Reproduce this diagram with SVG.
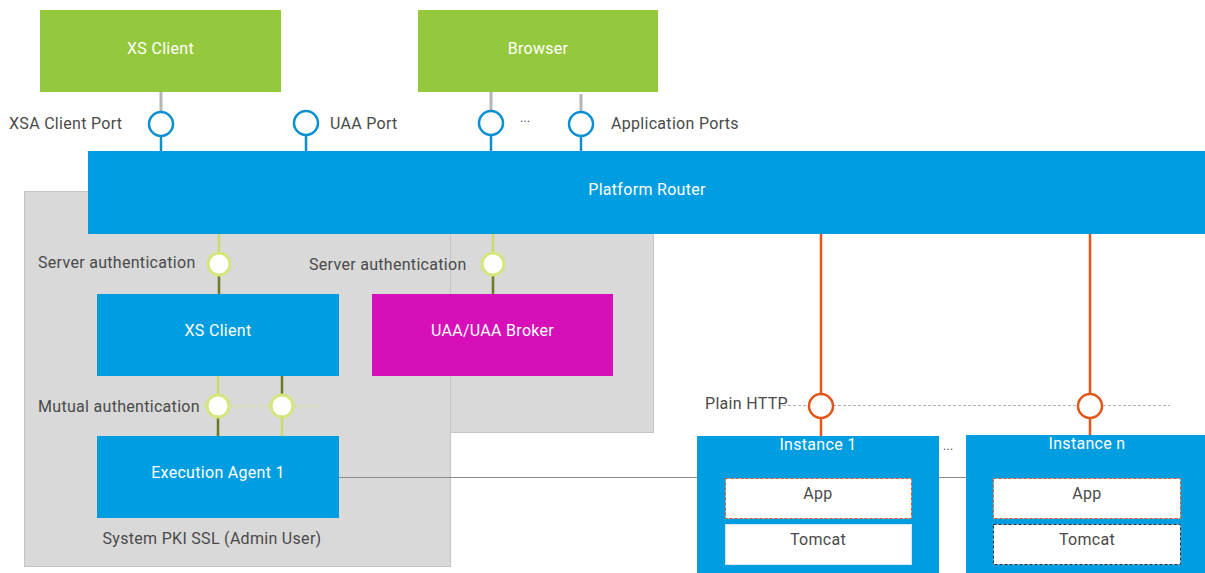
<svg xmlns="http://www.w3.org/2000/svg" width="1205" height="573" viewBox="0 0 1205 573">
<style>
text{font-family:Roboto,"Liberation Sans",sans-serif;font-size:16px;letter-spacing:0.3px}
.lbl{fill:#4a4a4a}
.wt{fill:#ffffff;text-anchor:middle}
.dk{fill:#4a4a4a;text-anchor:middle}
.green{fill:#95c93d}
.blue{fill:#009de0}
.port{fill:#ffffff;stroke:#0a8fd0;stroke-width:2.5}
.auth{fill:#ffffff;stroke:#d4e67a;stroke-width:3}
.http{fill:#ffffff;stroke:#e2561a;stroke-width:2.5}
</style>
<rect x="0" y="0" width="1205" height="573" fill="#ffffff"/>
<g id="zones">
<rect x="24.5" y="191.5" width="426" height="375" fill="#d9d9d9" stroke="#c4c4c4"/>
<rect x="450.5" y="191.5" width="203" height="241" fill="#d9d9d9" stroke="#c4c4c4"/>
<rect x="440" y="192" width="10" height="240" fill="#d9d9d9"/>
<text class="dk" x="212" y="544">System PKI SSL (Admin User)</text>
</g>
<g id="connectors">
<line x1="161" y1="92" x2="161" y2="112" stroke="#b5b5b5" stroke-width="3"/>
<line x1="491" y1="92" x2="491" y2="111" stroke="#b5b5b5" stroke-width="3"/>
<line x1="581" y1="94" x2="581" y2="112" stroke="#b5b5b5" stroke-width="3"/>
<line x1="161" y1="136" x2="161" y2="151" stroke="#0a8fd0" stroke-width="2.5"/>
<line x1="306" y1="135" x2="306" y2="151" stroke="#0a8fd0" stroke-width="2.5"/>
<line x1="491" y1="135" x2="491" y2="151" stroke="#0a8fd0" stroke-width="2.5"/>
<line x1="581" y1="136" x2="581" y2="151" stroke="#0a8fd0" stroke-width="2.5"/>
<line x1="219" y1="234" x2="219" y2="253" stroke="#c8dc6a" stroke-width="2.5"/>
<line x1="219" y1="275" x2="219" y2="294" stroke="#6b7a20" stroke-width="2.5"/>
<line x1="493" y1="234" x2="493" y2="253" stroke="#c8dc6a" stroke-width="2.5"/>
<line x1="493" y1="275" x2="493" y2="294" stroke="#6b7a20" stroke-width="2.5"/>
<line x1="196" y1="406" x2="320" y2="406" stroke="#d4e67a" stroke-width="1" stroke-dasharray="4,3"/>
<line x1="218" y1="376" x2="218" y2="395" stroke="#c8dc6a" stroke-width="2.5"/>
<line x1="218" y1="417" x2="218" y2="436" stroke="#6b7a20" stroke-width="2.5"/>
<line x1="282" y1="376" x2="282" y2="395" stroke="#6b7a20" stroke-width="2.5"/>
<line x1="282" y1="417" x2="282" y2="436" stroke="#c8dc6a" stroke-width="2.5"/>
<line x1="339" y1="477.5" x2="967" y2="477.5" stroke="#8c8c8c" stroke-width="1"/>
<line x1="783" y1="405.5" x2="1170" y2="405.5" stroke="#b0b0b0" stroke-width="1" stroke-dasharray="3,2"/>
<line x1="821" y1="234" x2="821" y2="394" stroke="#e2561a" stroke-width="2.5"/>
<line x1="821" y1="418" x2="821" y2="436" stroke="#e2561a" stroke-width="2.5"/>
<line x1="1090" y1="234" x2="1090" y2="394" stroke="#e2561a" stroke-width="2.5"/>
<line x1="1090" y1="418" x2="1090" y2="435" stroke="#e2561a" stroke-width="2.5"/>
</g>
<g id="xs-client-top"><rect class="green" x="40" y="10" width="241" height="82"/><text class="wt" x="160.5" y="54">XS Client</text></g>
<g id="browser"><rect class="green" x="418" y="10" width="240" height="82"/><text class="wt" x="538" y="54">Browser</text></g>
<g id="ports">
<circle class="port" cx="161" cy="124" r="12"/>
<circle class="port" cx="306" cy="123" r="12"/>
<circle class="port" cx="491" cy="123" r="12"/>
<circle class="port" cx="581" cy="124" r="12"/>
<text class="lbl" x="9" y="129">XSA Client Port</text>
<text class="lbl" x="330" y="129">UAA Port</text>
<text class="lbl" x="520" y="122" style="font-size:12px">...</text>
<text class="lbl" x="611" y="129">Application Ports</text>
</g>
<g id="platform-router"><rect class="blue" x="88" y="151" width="1117" height="83"/><text class="wt" x="647" y="195">Platform Router</text></g>
<g id="server-auth">
<circle class="auth" cx="219" cy="264" r="11"/>
<circle class="auth" cx="493" cy="264" r="11"/>
<text class="lbl" x="38" y="268">Server authentication</text>
<text class="lbl" x="309" y="270">Server authentication</text>
</g>
<g id="xs-client"><rect class="blue" x="97" y="294" width="242" height="82"/><text class="wt" x="218" y="336">XS Client</text></g>
<g id="uaa-broker"><rect x="372" y="294" width="241" height="82" fill="#d70fb9"/><text class="wt" x="492.5" y="336">UAA/UAA Broker</text></g>
<g id="mutual-auth">
<circle class="auth" cx="218" cy="406" r="11"/>
<circle class="auth" cx="282" cy="406" r="11"/>
<text class="lbl" x="38" y="412">Mutual authentication</text>
</g>
<g id="execution-agent"><rect class="blue" x="97" y="436" width="242" height="82"/><text class="wt" x="218" y="478">Execution Agent 1</text></g>
<g id="plain-http">
<circle class="http" cx="821" cy="406" r="12"/>
<circle class="http" cx="1090" cy="406" r="12"/>
<text class="lbl" x="705" y="409">Plain HTTP</text>
</g>
<g id="instance-1">
<rect class="blue" x="697" y="436" width="242" height="137"/>
<text class="wt" x="818" y="450">Instance 1</text>
<rect x="725.5" y="478.5" width="186" height="40" fill="#ffffff" stroke="#e2561a" stroke-width="1" stroke-dasharray="3,2"/>
<text class="dk" x="818" y="499">App</text>
<rect x="725.5" y="524.5" width="186" height="40" fill="#ffffff" stroke="#d0e8f5" stroke-width="1"/>
<text class="dk" x="818" y="545">Tomcat</text>
</g>
<text class="lbl" x="943" y="450" style="font-size:12px">...</text>
<g id="instance-n">
<rect class="blue" x="966" y="435" width="239" height="138"/>
<text class="wt" x="1087" y="449">Instance n</text>
<rect x="993.5" y="478.5" width="187" height="40" fill="#ffffff" stroke="#e2561a" stroke-width="1" stroke-dasharray="3,2"/>
<text class="dk" x="1087" y="499">App</text>
<rect x="993.5" y="524.5" width="187" height="40" fill="#ffffff" stroke="#333333" stroke-width="1" stroke-dasharray="3,2"/>
<text class="dk" x="1087" y="545">Tomcat</text>
</g>
</svg>
